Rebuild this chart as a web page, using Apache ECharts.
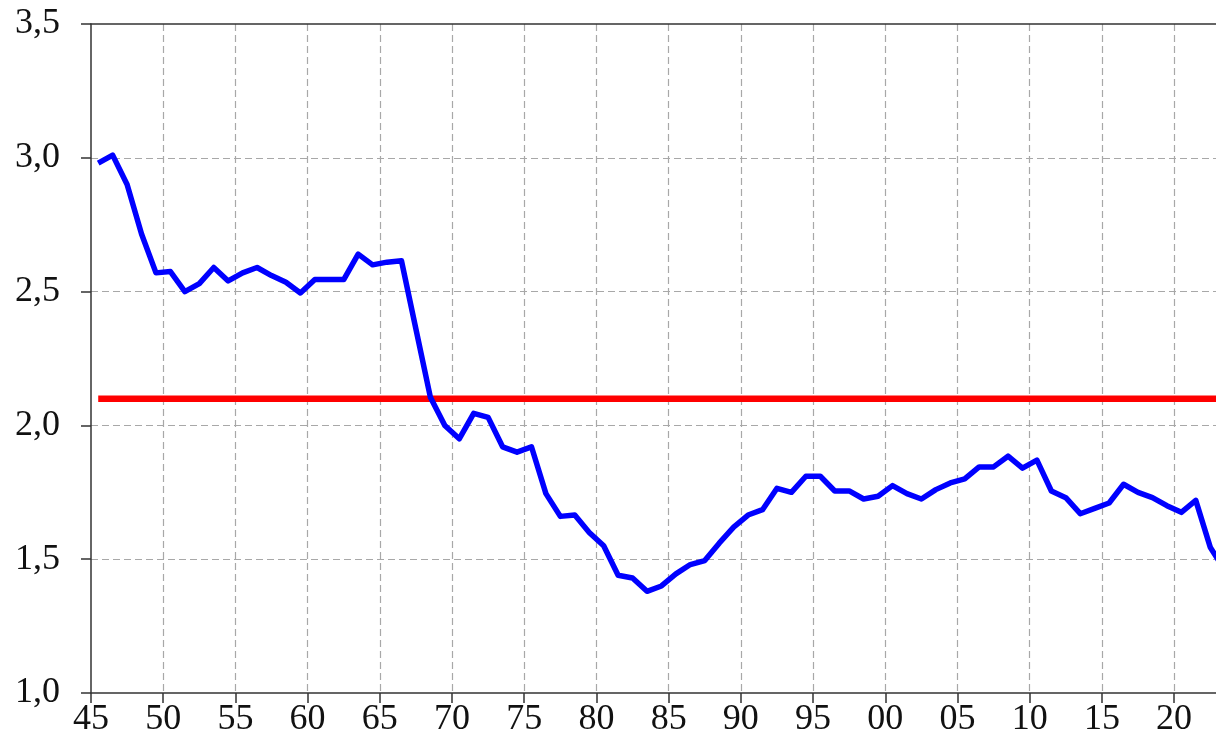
<!DOCTYPE html>
<html>
<head>
<meta charset="utf-8">
<script src="https://cdn.jsdelivr.net/npm/echarts@6/dist/echarts.min.js"></script>
<style>
  html, body { margin: 0; padding: 0; background: #fff; }
  #main { width: 1216px; height: 739px; }
</style>
</head>
<body>
<div id="main"></div>
<script>
// annual values, 1945 .. 2023
var firstYear = 1945;
var values = [
  2.98, 3.01, 2.90, 2.715, 2.57, 2.575, 2.50, 2.53, 2.59, 2.54,
  2.57, 2.59, 2.56, 2.535, 2.495, 2.545, 2.545, 2.545, 2.64, 2.60,
  2.61, 2.615, 2.36, 2.105, 2.00, 1.95, 2.045, 2.03, 1.92, 1.90,
  1.92, 1.745, 1.66, 1.665, 1.60, 1.55, 1.44, 1.43, 1.38, 1.40,
  1.445, 1.48, 1.495, 1.56, 1.62, 1.665, 1.685, 1.765, 1.75, 1.81,
  1.81, 1.755, 1.755, 1.725, 1.735, 1.775, 1.745, 1.725, 1.76, 1.785,
  1.80, 1.845, 1.845, 1.885, 1.84, 1.87, 1.755, 1.73, 1.67, 1.69,
  1.71, 1.78, 1.75, 1.73, 1.70, 1.675, 1.72, 1.545, 1.46
];
var refValue = 2.1;
var yTicks = [1.0, 1.5, 2.0, 2.5, 3.0, 3.5];

var years = [];
for (var i = 0; i < values.length; i++) {
  years.push(firstYear + i);
}

// values are plotted at mid-year
var lineData = [];
var refData = [];
for (var j = 0; j < years.length; j++) {
  lineData.push([years[j] + 0.5, values[j]]);
  refData.push([years[j] + 0.5, refValue]);
}

var labelFont = {
  fontFamily: '"Liberation Serif", "DejaVu Serif", serif',
  fontSize: 36,
  color: '#111'
};
var axisLineStyle = { color: '#333', width: 1.5 };
var gridStyle = { color: '#a8a8a8', width: 1.2, type: [7, 4] };

var chart = echarts.init(document.getElementById('main'), null, { renderer: 'canvas' });

var option = {
  animation: false,
  backgroundColor: '#fff',
  grid: { left: 91, right: 0, top: 24, bottom: 46, containLabel: false },
  xAxis: [{
    type: 'value',
    min: firstYear,
    max: 2022.9,
    interval: 5,
    axisLine: { show: true, onZero: false, lineStyle: axisLineStyle },
    axisTick: { show: true, length: 10, inside: false, lineStyle: axisLineStyle },
    axisLabel: Object.assign({
      margin: 9,
      showMaxLabel: false,
      formatter: function (v) {
        if (v % 5 !== 0) return '';
        var s = String(v % 100);
        return s.length < 2 ? '0' + s : s;
      }
    }, labelFont),
    splitLine: { show: true, showMinLine: false, showMaxLine: false, lineStyle: gridStyle }
  }, {
    // solid top frame line
    type: 'value',
    position: 'top',
    min: firstYear,
    max: 2022.9,
    axisLine: { show: true, onZero: false, lineStyle: axisLineStyle },
    axisTick: { show: false },
    axisLabel: { show: false },
    splitLine: { show: false }
  }],
  yAxis: {
    type: 'value',
    min: yTicks[0],
    max: yTicks[yTicks.length - 1],
    interval: 0.5,
    axisLine: { show: true, lineStyle: axisLineStyle },
    axisTick: { show: true, length: 10, inside: false, lineStyle: axisLineStyle },
    axisLabel: Object.assign({
      margin: 31,
      formatter: function (v) {
        return v.toFixed(1).replace('.', ',');
      }
    }, labelFont),
    splitLine: { show: true, showMinLine: false, showMaxLine: false, lineStyle: gridStyle }
  },
  series: [{
    name: 'ref',
    type: 'line',
    data: refData,
    symbol: 'none',
    clip: true,
    lineStyle: { color: '#ff0000', width: 6.5 },
    z: 3
  }, {
    name: 'value',
    type: 'line',
    data: lineData,
    symbol: 'none',
    clip: true,
    lineStyle: { color: '#0000ff', width: 5.5, join: 'round' },
    z: 4
  }]
};

chart.setOption(option);
</script>
</body>
</html>
